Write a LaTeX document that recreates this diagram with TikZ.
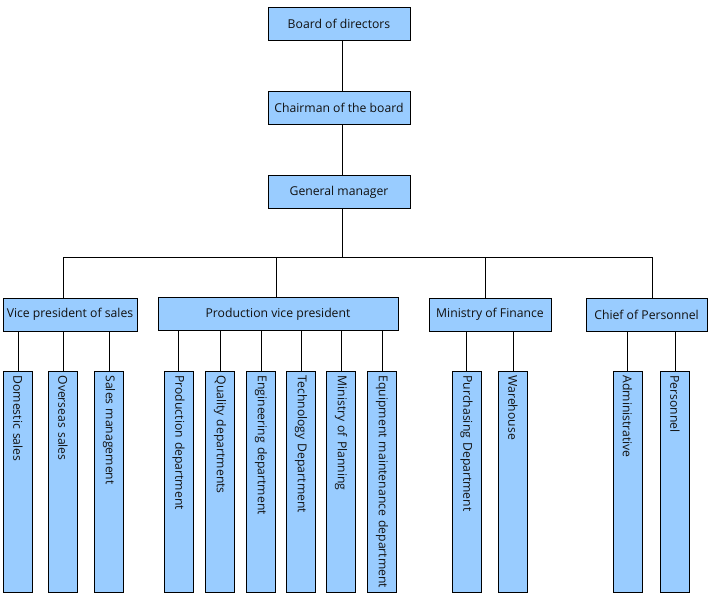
\documentclass[tikz,border=0pt]{standalone}
\usepackage{fontspec}
\setmainfont{Open Sans}
\definecolor{boxfill}{HTML}{99CCFF}
\definecolor{txt}{HTML}{111111}
\tikzset{
  hbox/.style={draw=black, line width=1pt, fill=boxfill, text=txt, font=\fontsize{12.2}{14}\selectfont, inner sep=0pt, minimum height=33pt},
  vbox/.style={draw=black, line width=1pt, fill=boxfill, text=txt, font=\fontsize{12.2}{14}\selectfont, inner sep=0pt, rotate=-90, minimum width=221pt, minimum height=29pt, text width=213pt, align=left},
  conn/.style={line width=1pt, draw=black}
}
\begin{document}
\begin{tikzpicture}[x=1pt,y=-1pt]
\useasboundingbox (0,0) rectangle (711,600);
% top chain
\node[hbox, minimum width=142pt] (board) at (339,24) {Board of directors};
\node[hbox, minimum width=142pt] (chair) at (339,108) {Chairman of the board};
\node[hbox, minimum width=142pt] (gm) at (339,192) {General manager};
% level 2
\node[hbox, minimum width=134pt] (vps) at (70,314.5) {Vice president of sales};
\node[hbox, minimum width=240pt] (pvp) at (278,314) {Production vice president};
\node[hbox, minimum width=122pt] (fin) at (490,314.5) {Ministry of Finance};
\node[hbox, minimum width=121pt] (chief) at (646.5,314.5) {Chief of Personnel};
% bus coordinates
\coordinate (bgm) at (342,257);
\coordinate (b1) at (63,257);
\coordinate (b2) at (276,257);
\coordinate (b3) at (485,257);
\coordinate (b4) at (652,257);
% level 3
\node[vbox] (dom) at (18,482) {Domestic sales};
\node[vbox] (ovs) at (63,482) {Overseas sales};
\node[vbox] (smg) at (109,482) {Sales management};
\node[vbox] (prd) at (178.5,482) {Production department};
\node[vbox] (qua) at (220,482) {Quality departments};
\node[vbox] (eng) at (261,482) {Engineering department};
\node[vbox] (tec) at (301,482) {Technology Department};
\node[vbox] (pla) at (341,482) {Ministry of Planning};
\node[vbox] (equ) at (382,482) {Equipment maintenance department};
\node[vbox] (pur) at (466.5,482) {Purchasing Department};
\node[vbox] (war) at (513,482) {Warehouse};
\node[vbox] (adm) at (627.5,482) {Administrative};
\node[vbox] (per) at (675,482) {Personnel};
% connectors
\draw[conn] (board.south -| bgm) -- (chair.north -| bgm);
\draw[conn] (chair.south -| bgm) -- (gm.north -| bgm);
\draw[conn] (gm.south -| bgm) -- (bgm);
\draw[conn] (vps.north -| b1) -- (b1) -- (b4) -- (chief.north -| b4);
\draw[conn] (pvp.north -| b2) -- (b2);
\draw[conn] (fin.north -| b3) -- (b3);
\foreach \c in {dom,ovs,smg} \draw[conn] (\c.west) -- (\c.west |- vps.south);
\foreach \c in {prd,qua,eng,tec,pla,equ} \draw[conn] (\c.west) -- (\c.west |- pvp.south);
\foreach \c in {pur,war} \draw[conn] (\c.west) -- (\c.west |- fin.south);
\foreach \c in {adm,per} \draw[conn] (\c.west) -- (\c.west |- chief.south);
\end{tikzpicture}
\end{document}
